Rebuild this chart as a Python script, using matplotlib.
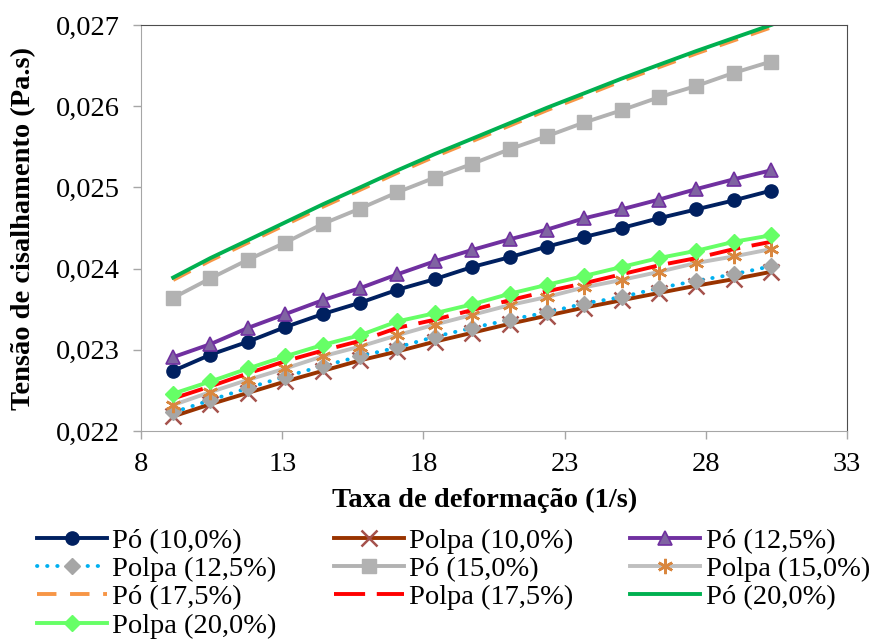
import matplotlib
matplotlib.use("Agg")
import matplotlib.pyplot as plt
from matplotlib.ticker import FuncFormatter

plt.rcParams["font.family"] = ["Liberation Serif", "DejaVu Serif"]

# =============================================================================
# Data
# =============================================================================
taxa = [9.14, 10.46, 11.79, 13.11, 14.43, 15.76, 17.08, 18.40, 19.73,
        21.05, 22.37, 23.70, 25.02, 26.34, 27.67, 28.99, 30.31]

po_10 = [0.02274, 0.02294, 0.02310, 0.02328, 0.02344, 0.02358, 0.02374, 0.02387, 0.02402,
         0.02414, 0.02427, 0.02439, 0.02450, 0.02462, 0.02473, 0.02484, 0.02496]
polpa_10 = [0.02218, 0.02233, 0.02247, 0.02261, 0.02274, 0.02287, 0.02298, 0.02310, 0.02321,
            0.02332, 0.02342, 0.02352, 0.02361, 0.02370, 0.02379, 0.02387, 0.02396]
po_125 = [0.02291, 0.02307, 0.02327, 0.02344, 0.02361, 0.02376, 0.02393, 0.02409, 0.02423,
          0.02436, 0.02448, 0.02462, 0.02473, 0.02485, 0.02498, 0.02510, 0.02521]
polpa_125 = [0.02223, 0.02238, 0.02253, 0.02267, 0.02280, 0.02292, 0.02303, 0.02316, 0.02327,
             0.02337, 0.02346, 0.02357, 0.02365, 0.02376, 0.02385, 0.02393, 0.02403]
po_15 = [0.02364, 0.02388, 0.02411, 0.02432, 0.02455, 0.02474, 0.02494, 0.02512, 0.02529,
         0.02547, 0.02563, 0.02580, 0.02595, 0.02611, 0.02625, 0.02641, 0.02655]
polpa_15 = [0.02232, 0.02248, 0.02263, 0.02277, 0.02292, 0.02304, 0.02318, 0.02331, 0.02343,
            0.02355, 0.02365, 0.02377, 0.02386, 0.02396, 0.02407, 0.02415, 0.02424]
po_175 = [0.02386, 0.02410, 0.02432, 0.02454, 0.02476, 0.02497, 0.02518, 0.02538, 0.02557,
          0.02576, 0.02595, 0.02613, 0.02631, 0.02648, 0.02665, 0.02681, 0.02697]
polpa_175 = [0.02240, 0.02255, 0.02271, 0.02286, 0.02299, 0.02311, 0.02327, 0.02337, 0.02349,
             0.02361, 0.02372, 0.02382, 0.02393, 0.02404, 0.02413, 0.02424, 0.02433]
po_20 = [0.02389, 0.02413, 0.02435, 0.02457, 0.02479, 0.02500, 0.02521, 0.02541, 0.02560,
         0.02579, 0.02598, 0.02616, 0.02634, 0.02651, 0.02668, 0.02684, 0.02700]
polpa_20 = [0.02246, 0.02261, 0.02277, 0.02292, 0.02306, 0.02318, 0.02335, 0.02345, 0.02356,
            0.02369, 0.02380, 0.02391, 0.02402, 0.02413, 0.02422, 0.02433, 0.02441]

x_ticks = [8, 13, 18, 23, 28, 33]
y_ticks = [0.022, 0.023, 0.024, 0.025, 0.026, 0.027]

# =============================================================================
# Plot
# =============================================================================
fig = plt.figure(figsize=(8.77, 6.43), dpi=100)
ax = fig.add_axes([141 / 877, 1 - 431 / 643, 706 / 877, 406 / 643])

lw = 2.8
lines = {}
lines["Pó (10,0%)"] = ax.plot(taxa, po_10, color="#002060", lw=lw, marker="o", ms=9.5,
                              mfc="#002060", mec="#002060")[0]
lines["Polpa (10,0%)"] = ax.plot(taxa, polpa_10, color="#993300", lw=lw, marker="x", ms=12,
                                 mec="#A5524C", mew=1.8)[0]
lines["Pó (12,5%)"] = ax.plot(taxa, po_125, color="#7030A0", lw=lw, marker="^", ms=10,
                              mfc="#8064A2", mec="#7030A0", mew=1.2)[0]
lines["Polpa (12,5%)"] = ax.plot(taxa, polpa_125, color="#00B0F0", lw=lw, ls=(0, (0.1, 2.5)),
                                 dash_capstyle="round", marker="D", ms=8,
                                 mfc="#A6A6A6", mec="#A6A6A6")[0]
lines["Pó (15,0%)"] = ax.plot(taxa, po_15, color="#B2B2B2", lw=lw, marker="s", ms=9.5,
                              mfc="#B2B2B2", mec="#B2B2B2")[0]
lines["Polpa (15,0%)"] = ax.plot(taxa, polpa_15, color="#BFBFBF", lw=lw, marker=(6, 2, 0),
                                 ms=11, mec="#D9873F", mew=1.8)[0]
lines["Pó (17,5%)"] = ax.plot(taxa, po_175, color="#F79646", lw=lw, ls=(0, (5, 3.5)))[0]
lines["Polpa (17,5%)"] = ax.plot(taxa, polpa_175, color="#FF0000", lw=lw, ls=(0, (8, 3)))[0]
lines["Pó (20,0%)"] = ax.plot(taxa, po_20, color="#00B050", lw=lw)[0]
lines["Polpa (20,0%)"] = ax.plot(taxa, polpa_20, color="#66FF66", lw=lw, marker="D", ms=8.5,
                                 mfc="#66FF66", mec="#66FF66")[0]

ax.set_xlim(8, 33)
ax.set_ylim(0.022, 0.027)
ax.set_xticks(x_ticks)
ax.set_yticks(y_ticks)
ax.yaxis.set_major_formatter(FuncFormatter(lambda v, p: f"{v:.3f}".replace(".", ",")))
ax.tick_params(axis="both", direction="out", length=6, width=1, color="#A6A6A6",
               labelsize=20.5, pad=9)

for side in ["left", "bottom"]:
    ax.spines[side].set_color("#A6A6A6")
for side in ["top", "right"]:
    ax.spines[side].set_color("#4D4D4D")

ax.set_xlabel("Taxa de deformação (1/s)", fontsize=20.5, fontweight="bold")
ax.set_ylabel("Tensão de cisalhamento (Pa.s)", fontsize=20.5, fontweight="bold")
ax.xaxis.set_label_coords(0.487, -0.14)
ax.yaxis.set_label_coords(-0.148, 0.5)

# Excel fills the legend row by row; matplotlib fills columns, so reorder
order = ["Pó (10,0%)", "Polpa (12,5%)", "Pó (17,5%)", "Polpa (20,0%)",
         "Polpa (10,0%)", "Pó (15,0%)", "Polpa (17,5%)",
         "Pó (12,5%)", "Polpa (15,0%)", "Pó (20,0%)"]
fig.legend([lines[k] for k in order], order, ncol=3, loc="upper left",
           bbox_to_anchor=(37 / 877, 1 - 528 / 643), bbox_transform=fig.transFigure,
           frameon=False, fontsize=20.5, handlelength=2.45, handletextpad=0.2,
           columnspacing=2.0, labelspacing=0.08, borderpad=0, borderaxespad=0,
           numpoints=1)

plt.savefig("out.png", dpi=100)
plt.close()
